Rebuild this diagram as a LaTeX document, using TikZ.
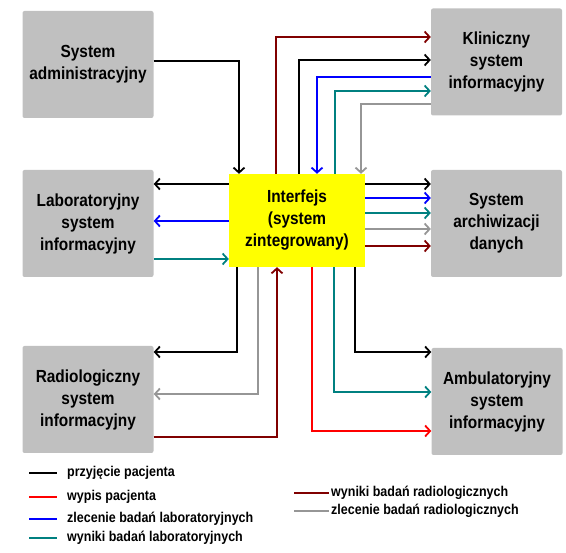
\documentclass[tikz,border=0pt]{standalone}
\usepackage{fontspec}
\newfontfamily\boxfont{Liberation Sans}[FakeStretch=0.88]
\usetikzlibrary{arrows.meta}
\definecolor{boxgray}{HTML}{C0C0C0}
\definecolor{ifcyellow}{HTML}{FFFF00}
\definecolor{lnred}{HTML}{FF0000}
\definecolor{lnblue}{HTML}{0000FF}
\definecolor{lnteal}{HTML}{008080}
\definecolor{lngray}{HTML}{969696}
\definecolor{lndark}{HTML}{800000}
\newcommand{\sysbox}[4]{%
  \node[fill=boxgray, rounded corners=2pt, minimum width=131pt,
        minimum height=107pt, inner sep=0pt, align=center] (#1) at (#2,#3) {#4};}
\tikzset{flow/.style={line width=1.8pt, -{Straight Barb[length=5pt,width=11pt]}}}
\begin{document}
\begin{tikzpicture}[x=1pt, y=-1pt, font=\boxfont\bfseries\fontsize{17.5}{22}\selectfont]
  \useasboundingbox (0,0) rectangle (566,553);
  \sysbox{adm}{88}{64.5}{System\\administracyjny}
  \sysbox{lab}{88}{223.5}{Laboratoryjny\\system\\informacyjny}
  \sysbox{rad}{88}{399.5}{Radiologiczny\\system\\informacyjny}
  \sysbox{kli}{496.5}{62}{Kliniczny\\system\\informacyjny}
  \sysbox{arc}{496.5}{223.5}{System\\archiwizacji\\danych}
  \sysbox{amb}{497}{401.5}{Ambulatoryjny\\system\\informacyjny}
  \node[fill=ifcyellow, minimum width=136pt, minimum height=93pt, inner sep=0pt,
        align=center] (ifc) at (297,220.5) {Interfejs\\(system\\zintegrowany)};
  % gora
  \draw[flow] (adm.east |- 0,61) -| (ifc.north -| 239,0);
  \draw[flow, lndark] (ifc.north -| 276,0) |- (kli.west |- 0,37);
  \draw[flow] (ifc.north -| 299,0) |- (kli.west |- 0,60);
  \draw[flow, lnblue] (kli.west |- 0,77) -| (ifc.north -| 317,0);
  \draw[flow, lnteal] (ifc.north -| 335,0) |- (kli.west |- 0,91);
  \draw[flow, lngray] (kli.west |- 0,104) -| (ifc.north -| 361,0);
  % prawo
  \draw[flow] (ifc.east |- 0,184) -- (arc.west |- 0,184);
  \draw[flow, lnblue] (ifc.east |- 0,198) -- (arc.west |- 0,198);
  \draw[flow, lnteal] (ifc.east |- 0,213) -- (arc.west |- 0,213);
  \draw[flow, lngray] (ifc.east |- 0,229) -- (arc.west |- 0,229);
  \draw[flow, lndark] (ifc.east |- 0,246) -- (arc.west |- 0,246);
  % lewo
  \draw[flow] (ifc.west |- 0,184) -- (lab.east |- 0,184);
  \draw[flow, lnblue] (ifc.west |- 0,221) -- (lab.east |- 0,221);
  \draw[flow, lnteal] (lab.east |- 0,259) -- (ifc.west |- 0,259);
  % dol
  \draw[flow] (ifc.south -| 237,0) |- (rad.east |- 0,352);
  \draw[flow, lngray] (ifc.south -| 258,0) |- (rad.east |- 0,394);
  \draw[flow, lndark] (rad.east |- 0,437) -| (ifc.south -| 277,0);
  \draw[flow, lnred] (ifc.south -| 312,0) |- (amb.west |- 0,431);
  \draw[flow, lnteal] (ifc.south -| 334,0) |- (amb.west |- 0,392);
  \draw[flow] (ifc.south -| 355,0) |- (amb.west |- 0,352);
  % legenda
  \foreach \col/\y/\lbl in {black/473/przyjęcie pacjenta, lnred/497/wypis pacjenta,
      lnblue/519/zlecenie badań laboratoryjnych, lnteal/538/wyniki badań laboratoryjnych} {
    \draw[\col, line width=1.8pt] (29,\y) -- (57,\y);
    \node[anchor=west, inner sep=0pt, font=\boxfont\bfseries\fontsize{14.2}{16}\selectfont]
      (lg\y) at (67,\y) {\lbl};
  }
  \foreach \col/\y/\lbl in {lndark/493/wyniki badań radiologicznych,
      lngray/511/zlecenie badań radiologicznych} {
    \draw[\col, line width=1.8pt] (294,\y) -- (329,\y);
    \node[anchor=west, inner sep=0pt, font=\boxfont\bfseries\fontsize{14.2}{16}\selectfont]
      (lg\y) at (331,\y) {\lbl};
  }
\end{tikzpicture}
\end{document}
